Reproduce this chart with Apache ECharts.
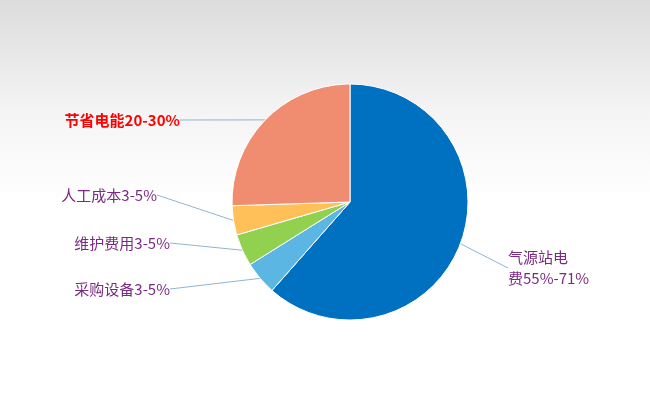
<!DOCTYPE html>
<html><head><meta charset="utf-8">
<script src="https://cdn.jsdelivr.net/npm/echarts@6/dist/echarts.min.js"></script>
<style>html,body{margin:0;padding:0;}
body{background:linear-gradient(#dcdcdc 0px,#f4f4f4 110px,#ffffff 200px,#ffffff 400px);}
#c{width:650px;height:400px;}</style></head>
<body><div id="c"></div>
<script>
const categories=['气源站电\n费55%-71%','采购设备3-5%','维护费用3-5%','人工成本3-5%','节省电能20-30%'];
const values=[61.5,4.6,4.4,4.0,25.5];
const colors=['#0070c0','#5bb6e4','#92d050','#ffc05a','#f08c70'];
const labelPos=[[508,268,'left'],[170,289,'right'],[170,243,'right'],[157,195,'right'],[180,120,'right']];
const chart=echarts.init(document.getElementById('c'));
chart.setOption({
 series:[{type:'pie',center:[350,202],radius:118,startAngle:90,clockwise:true,animation:false,
  data:categories.map((n,i)=>({name:n,value:values[i],itemStyle:{color:colors[i]},
   label:i===4?{color:'#ff0000',fontWeight:'bold'}:(i===0?{align:'center'}:{})})),
  itemStyle:{borderColor:'#fff',borderWidth:1},
  label:{show:true,formatter:'{b}',color:'#7a2a82',fontSize:15,fontFamily:'Noto Sans CJK SC',lineHeight:21},
  labelLine:{show:true,length:2,length2:0,lineStyle:{color:'#8fb4d8',width:1}},
  labelLayout:p=>{const q=labelPos[p.dataIndex];return {x:q[0],y:q[1],align:q[2],verticalAlign:'middle'};}
 }]
});
</script></body></html>
